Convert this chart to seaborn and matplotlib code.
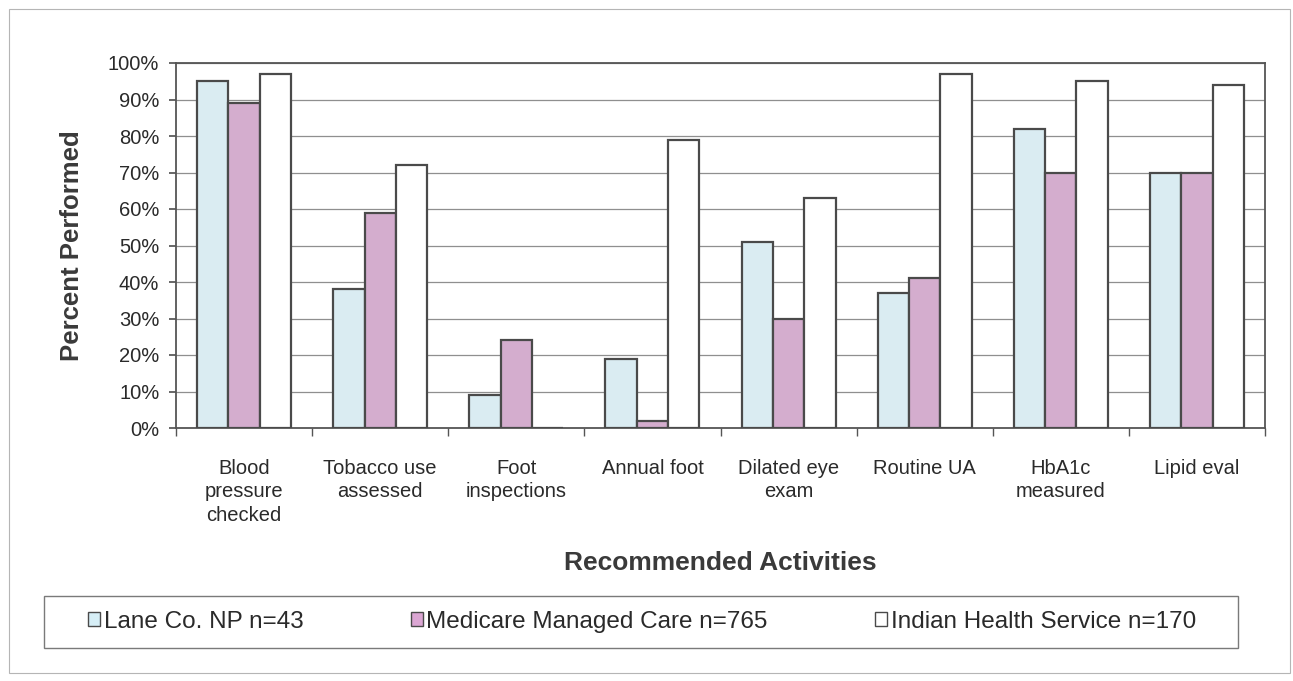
import matplotlib
matplotlib.use("Agg")
import matplotlib.pyplot as plt
import matplotlib.patches as mpatches
from matplotlib.ticker import FixedLocator, PercentFormatter
import numpy as np
import pandas as pd
import seaborn as sns

activities = ["Blood\npressure\nchecked", "Tobacco use\nassessed", "Foot\ninspections",
              "Annual foot", "Dilated eye\nexam", "Routine UA", "HbA1c\nmeasured", "Lipid eval"]
groups = ["Lane Co. NP n=43", "Medicare Managed Care n=765", "Indian Health Service n=170"]
lane = [95, 38, 9, 19, 51, 37, 82, 70]
medicare = [89, 59, 24, 2, 30, 41, 70, 70]
ihs = [97, 72, 0, 79, 63, 97, 95, 94]
colors = ["#d6eef6", "#dba6d3", "#ffffff"]

df = pd.DataFrame({
    "Activity": activities * 3,
    "Group": [groups[0]] * 8 + [groups[1]] * 8 + [groups[2]] * 8,
    "Percent": lane + medicare + ihs,
})

sns.set_theme(style="white")
plt.rcParams["font.family"] = ["Liberation Sans", "DejaVu Sans"]

W, H = 1293, 681
fig = plt.figure(figsize=(W / 100, H / 100), dpi=100)
ax = fig.add_axes([176 / W, 1 - 428 / H, (1265 - 176) / W, (428 - 63) / H])

sns.barplot(data=df, x="Activity", y="Percent", hue="Group", palette=colors,
            width=0.69, edgecolor="#4a4a4a", linewidth=1.6, ax=ax, legend=False,
            order=activities, hue_order=groups, zorder=3)

ax.set_ylim(0, 100)
ax.set_xlim(-0.5, len(activities) - 0.5)
ax.yaxis.set_major_locator(FixedLocator(np.arange(0, 101, 10)))
ax.yaxis.set_major_formatter(PercentFormatter(decimals=0))
ax.grid(axis="y", color="#8f8f8f", linewidth=0.9, zorder=0)
ax.set_axisbelow(True)
for s in ax.spines.values():
    s.set_color("#555555")
    s.set_linewidth(1.3)

ax.tick_params(axis="y", which="major", length=5, color="#555555", labelsize=14.5,
               labelcolor="#2a2a2a", left=True, pad=7)
ax.tick_params(axis="x", which="major", length=0, labelsize=14.5,
               labelcolor="#2a2a2a", pad=22)
ax.xaxis.set_minor_locator(FixedLocator(np.arange(-0.5, len(activities), 1)))
ax.tick_params(axis="x", which="minor", length=6, color="#555555", bottom=True)
for lbl in ax.get_xticklabels():
    lbl.set_verticalalignment("top")
    lbl.set_linespacing(1.3)

ax.set_xlabel("Recommended Activities", fontsize=19, fontweight="bold", color="#3a3a3a")
ax.set_ylabel("Percent Performed", fontsize=18.5, fontweight="bold", color="#3a3a3a")
ax.xaxis.set_label_coords(0.5, -(563 - 428) / (428 - 63))
ax.xaxis.label.set_verticalalignment("center")
ax.yaxis.set_label_coords(-(176 - 72) / (1265 - 176), 0.5)
ax.yaxis.label.set_verticalalignment("center")

# legend entries, spread evenly inside a plain box under the axis title
handles = [mpatches.Patch(facecolor=c, edgecolor="#4a4a4a", linewidth=1.0) for c in colors]
leg = fig.legend(handles, groups, loc="center", ncol=3,
                 bbox_to_anchor=(88 / W, 1 - 648 / H, (1196 - 88) / W, 52 / H),
                 mode="expand", fontsize=17.5, frameon=False,
                 handlelength=0.5, handleheight=0.5, handletextpad=0.15,
                 borderpad=0.0, borderaxespad=0.0)
for t in leg.get_texts():
    t.set_color("#2a2a2a")
fig.patches.append(mpatches.Rectangle((44 / W, 1 - 648 / H), (1238 - 44) / W, 52 / H,
                                      transform=fig.transFigure, fill=False,
                                      edgecolor="#7a7a7a", linewidth=1.0))

# faint outer frame around the whole chart
fig.patches.append(mpatches.Rectangle((9 / W, 8 / H), 1 - 12 / W, 1 - 17 / H,
                                      transform=fig.transFigure, fill=False,
                                      edgecolor="#b5b5b5", linewidth=0.8))

fig.savefig("out.png", dpi=100)
